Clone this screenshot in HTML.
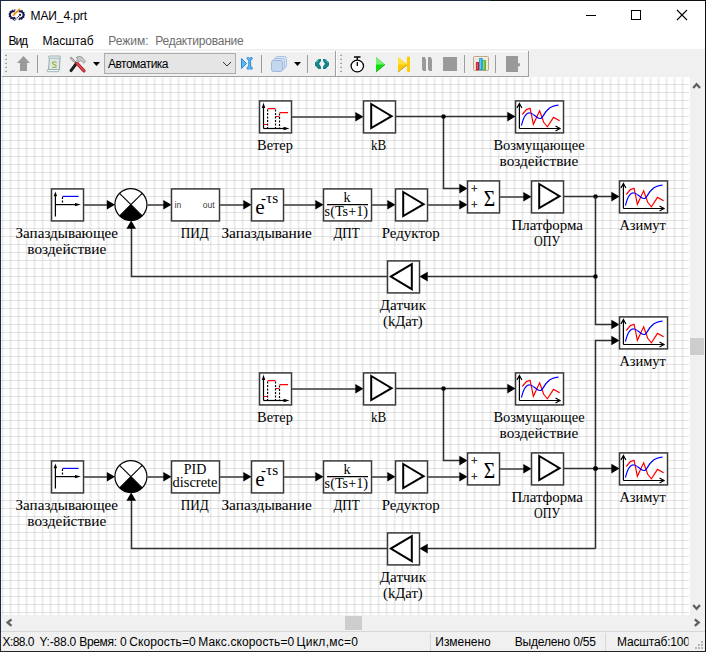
<!DOCTYPE html>
<html><head><meta charset="utf-8">
<style>
html,body{margin:0;padding:0;width:706px;height:652px;overflow:hidden;background:#fff}
svg{display:block}
.ui{font-family:"Liberation Sans",sans-serif;font-size:12px}
.lb{font-family:"Liberation Serif",serif;font-size:14px;fill:#000}
</style></head><body>
<svg width="706" height="652" viewBox="0 0 706 652">
<defs>
<pattern id="grid" x="0" y="0" width="8" height="8" patternUnits="userSpaceOnUse">
<rect x="2" y="0" width="1" height="8" fill="rgba(0,0,0,0.08)"/><rect x="1" y="0" width="1" height="8" fill="rgba(0,0,0,0.025)"/><rect x="3" y="0" width="1" height="8" fill="rgba(0,0,0,0.035)"/>
<rect x="0" y="4" width="8" height="1" fill="rgba(0,0,0,0.11)"/>
</pattern>
</defs>
<!-- window bg -->
<rect x="0" y="0" width="706" height="652" fill="#fff"/>
<!-- canvas -->
<rect x="1" y="77" width="689" height="538" fill="#fff"/>
<rect x="1" y="77" width="688" height="538" fill="url(#grid)"/>

<!-- DIAGRAM -->
<g id="diagram"><rect x="259.5" y="100.9" width="32" height="32" fill="#fff" stroke="#3a3a3a" stroke-width="1.5"/><path d="M263.5 128.5 V106" stroke="#000" stroke-width="1.2"/><path d="M263.5 102.5 L261.8 108 L265.2 108 Z" fill="#000"/><path d="M263.5 128.5 H286" stroke="#000" stroke-width="1.2"/><path d="M289.5 128.5 L283.5 126.8 L283.5 130.2 Z" fill="#000"/><path d="M263.5 124.5 H267.6 M267.6 108.6 H275.5 M275.5 116.5 H279.5 M279.5 112.6 H288" stroke="#f00" stroke-width="1.2"/><path d="M267.6 109.5 V128.5 M275.5 109.5 V128.5 M279.5 113.5 V128.5" stroke="#000" stroke-width="1.2" stroke-dasharray="2,1.5"/><rect x="363.5" y="100.9" width="32" height="32" fill="#fff" stroke="#3a3a3a" stroke-width="1.5"/><path d="M371.2 104 L391.6 116.2 L371.2 128 Z" fill="none" stroke="#000" stroke-width="2"/><rect x="515.5" y="100.9" width="48" height="32" fill="#fff" stroke="#3a3a3a" stroke-width="1.5"/><path d="M519.4 128.5 V103.5 M516.9 108 L519.4 103.5 L521.9 108" fill="none" stroke="#000" stroke-width="1.2"/><path d="M519.4 128.5 H560 M555.5 126.0 L560 128.5 L555.5 131.0" fill="none" stroke="#000" stroke-width="1.2"/><path d="M522.3 114.5 L526.4 109.6 L530.1 108.3 L533.4 124.3 L539.6 110.8 L543.7 122.3 L547.4 126.8 L553.5 117.4 L559.7 120.7" fill="none" stroke="#f00" stroke-width="1.2"/><path d="M521.5 125.6 C523.5 116.0 527.0 112.0 530.0 113.0 C534.0 113.5 537.0 119.0 540.0 118.5 C543.0 118.5 544.0 113.0 547.0 110.5 C550.0 107.0 554.0 105.5 558.5 105.2" fill="none" stroke="#00f" stroke-width="1.2"/><rect x="51.5" y="188.9" width="32" height="32" fill="#fff" stroke="#3a3a3a" stroke-width="1.5"/><path d="M55.4 216.5 V195" stroke="#000" stroke-width="1.2"/><path d="M55.4 191.4 L53.699999999999996 196.2 L57.1 196.2 Z" fill="#000"/><path d="M55.4 204.6 H77" stroke="#000" stroke-width="1.2"/><path d="M80.8 204.6 L75 203 L75 206.2 Z" fill="#000"/><path d="M62.5 196.4 H78.6" stroke="#00f" stroke-width="1.2"/><path d="M62.5 197 V204" stroke="#000" stroke-width="1.2" stroke-dasharray="2,1.5"/><circle cx="130.9" cy="204.6" r="16" fill="#fff" stroke="#000" stroke-width="1.2"/><path d="M130.9 204.6 L142.20 215.90 A16 16 0 0 1 119.60 215.90 Z" fill="#000"/><path d="M119.60 193.30 L142.20 215.90 M142.20 193.30 L119.60 215.90" stroke="#000" stroke-width="1.1"/><rect x="171.5" y="188.9" width="48" height="32" fill="#fff" stroke="#3a3a3a" stroke-width="1.5"/><text x="174.6" y="208.2" style="font-family:'Liberation Sans';font-size:8.5px" fill="#3a3a3a" >in</text><text x="202.8" y="208.2" style="font-family:'Liberation Sans';font-size:8.5px" fill="#3a3a3a" >out</text><rect x="251.5" y="188.9" width="32" height="32" fill="#fff" stroke="#3a3a3a" stroke-width="1.5"/><text x="255.2" y="214" style="font-family:'Liberation Serif';font-size:21px" fill="#000" textLength="9.4" lengthAdjust="spacingAndGlyphs">e</text><text x="261" y="203" style="font-family:'Liberation Serif';font-size:14.5px" fill="#000" textLength="17.3" lengthAdjust="spacingAndGlyphs">-τs</text><rect x="323.5" y="188.9" width="48" height="32" fill="#fff" stroke="#3a3a3a" stroke-width="1.5"/><text x="347" y="201.6" style="font-family:'Liberation Serif';font-size:14px" fill="#000" text-anchor="middle">k</text><path d="M327 204.6 H368" stroke="#000" stroke-width="1.1"/><text x="324.6" y="215.6" style="font-family:'Liberation Serif';font-size:14px" fill="#000" textLength="43.5" lengthAdjust="spacingAndGlyphs">s(Ts+1)</text><rect x="395.5" y="188.9" width="32" height="32" fill="#fff" stroke="#3a3a3a" stroke-width="1.5"/><path d="M403.2 192 L423.6 204.2 L403.2 216 Z" fill="none" stroke="#000" stroke-width="2"/><rect x="467.5" y="180.9" width="32" height="32" fill="#fff" stroke="#3a3a3a" stroke-width="1.5"/><text x="471" y="192.6" style="font-family:'Liberation Serif';font-size:12px" fill="#000" stroke="#000" stroke-width="0.25" textLength="6.6" lengthAdjust="spacingAndGlyphs">+</text><text x="471" y="208.6" style="font-family:'Liberation Serif';font-size:12px" fill="#000" stroke="#000" stroke-width="0.25" textLength="6.6" lengthAdjust="spacingAndGlyphs">+</text><text x="483.8" y="205.7" style="font-family:'Liberation Serif';font-size:24px" fill="#000" textLength="11.4" lengthAdjust="spacingAndGlyphs">Σ</text><rect x="531.5" y="180.9" width="32" height="32" fill="#fff" stroke="#3a3a3a" stroke-width="1.5"/><path d="M539.2 184 L559.6 196.2 L539.2 208 Z" fill="none" stroke="#000" stroke-width="2"/><rect x="619.5" y="180.9" width="48" height="32" fill="#fff" stroke="#3a3a3a" stroke-width="1.5"/><path d="M623.4 208.5 V183.5 M620.9 188 L623.4 183.5 L625.9 188" fill="none" stroke="#000" stroke-width="1.2"/><path d="M623.4 208.5 H664 M659.5 206.0 L664 208.5 L659.5 211.0" fill="none" stroke="#000" stroke-width="1.2"/><path d="M626.3 194.5 L630.4 189.6 L634.1 188.3 L637.4 204.3 L643.6 190.8 L647.7 202.3 L651.4 206.8 L657.5 197.4 L663.7 200.7" fill="none" stroke="#f00" stroke-width="1.2"/><path d="M625.5 205.6 C627.5 196.0 631.0 192.0 634.0 193.0 C638.0 193.5 641.0 199.0 644.0 198.5 C647.0 198.5 648.0 193.0 651.0 190.5 C654.0 187.0 658.0 185.5 662.5 185.2" fill="none" stroke="#00f" stroke-width="1.2"/><rect x="387.5" y="260.9" width="32" height="32" fill="#fff" stroke="#3a3a3a" stroke-width="1.5"/><path d="M411.8 264.2 L390.8 276.6 L411.8 289.2 Z" fill="none" stroke="#000" stroke-width="2"/><path d="M292 117 H356" fill="none" stroke="#666" stroke-width="2"/><path d="M363.5 116.8 L355.3 112.0 L355.3 121.6 Z" fill="#000"/><path d="M396 116.5 H508" fill="none" stroke="#303030" stroke-width="1.5"/><path d="M515.5 116.6 L507.3 111.8 L507.3 121.39999999999999 Z" fill="#000"/><path d="M443.5 116.5 V188.5 H460" fill="none" stroke="#303030" stroke-width="1.5"/><path d="M467.5 188.6 L459.3 183.79999999999998 L459.3 193.4 Z" fill="#000"/><rect x="441.5" y="114.5" width="4" height="4" rx="1.2" fill="#000"/><path d="M84 205 H108" fill="none" stroke="#666" stroke-width="2"/><path d="M115 204.7 L106.8 199.89999999999998 L106.8 209.5 Z" fill="#000"/><path d="M147 205 H164" fill="none" stroke="#666" stroke-width="2"/><path d="M171.5 204.7 L163.3 199.89999999999998 L163.3 209.5 Z" fill="#000"/><path d="M220 205 H244" fill="none" stroke="#666" stroke-width="2"/><path d="M251.5 204.7 L243.3 199.89999999999998 L243.3 209.5 Z" fill="#000"/><path d="M284 205 H316" fill="none" stroke="#666" stroke-width="2"/><path d="M323.5 204.7 L315.3 199.89999999999998 L315.3 209.5 Z" fill="#000"/><path d="M372 205 H388" fill="none" stroke="#666" stroke-width="2"/><path d="M395.5 204.7 L387.3 199.89999999999998 L387.3 209.5 Z" fill="#000"/><path d="M428 205 H460" fill="none" stroke="#666" stroke-width="2"/><path d="M467.5 204.7 L459.3 199.89999999999998 L459.3 209.5 Z" fill="#000"/><path d="M500 197 H524" fill="none" stroke="#666" stroke-width="2"/><path d="M531.5 196.7 L523.3 191.89999999999998 L523.3 201.5 Z" fill="#000"/><path d="M564 196.5 H612" fill="none" stroke="#303030" stroke-width="1.5"/><path d="M619.5 196.6 L611.3 191.79999999999998 L611.3 201.4 Z" fill="#000"/><rect x="593.5" y="194.5" width="4" height="4" rx="1.2" fill="#000"/><path d="M595.5 276.5 H426" fill="none" stroke="#303030" stroke-width="1.5"/><path d="M419.5 276.6 L427.7 271.8 L427.7 281.40000000000003 Z" fill="#000"/><path d="M387 276.5 H131.5 V228" fill="none" stroke="#303030" stroke-width="1.5"/><path d="M131.2 220.6 L126.39999999999999 228.79999999999998 L136.0 228.79999999999998 Z" fill="#000"/>
<rect x="259.5" y="372.9" width="32" height="32" fill="#fff" stroke="#3a3a3a" stroke-width="1.5"/><path d="M263.5 400.5 V378" stroke="#000" stroke-width="1.2"/><path d="M263.5 374.5 L261.8 380 L265.2 380 Z" fill="#000"/><path d="M263.5 400.5 H286" stroke="#000" stroke-width="1.2"/><path d="M289.5 400.5 L283.5 398.8 L283.5 402.2 Z" fill="#000"/><path d="M263.5 396.5 H267.6 M267.6 380.6 H275.5 M275.5 388.5 H279.5 M279.5 384.6 H288" stroke="#f00" stroke-width="1.2"/><path d="M267.6 381.5 V400.5 M275.5 381.5 V400.5 M279.5 385.5 V400.5" stroke="#000" stroke-width="1.2" stroke-dasharray="2,1.5"/><rect x="363.5" y="372.9" width="32" height="32" fill="#fff" stroke="#3a3a3a" stroke-width="1.5"/><path d="M371.2 376 L391.6 388.2 L371.2 400 Z" fill="none" stroke="#000" stroke-width="2"/><rect x="515.5" y="372.9" width="48" height="32" fill="#fff" stroke="#3a3a3a" stroke-width="1.5"/><path d="M519.4 400.5 V375.5 M516.9 380 L519.4 375.5 L521.9 380" fill="none" stroke="#000" stroke-width="1.2"/><path d="M519.4 400.5 H560 M555.5 398.0 L560 400.5 L555.5 403.0" fill="none" stroke="#000" stroke-width="1.2"/><path d="M522.3 386.5 L526.4 381.6 L530.1 380.3 L533.4 396.3 L539.6 382.8 L543.7 394.3 L547.4 398.8 L553.5 389.4 L559.7 392.7" fill="none" stroke="#f00" stroke-width="1.2"/><path d="M521.5 397.6 C523.5 388.0 527.0 384.0 530.0 385.0 C534.0 385.5 537.0 391.0 540.0 390.5 C543.0 390.5 544.0 385.0 547.0 382.5 C550.0 379.0 554.0 377.5 558.5 377.2" fill="none" stroke="#00f" stroke-width="1.2"/><rect x="51.5" y="460.9" width="32" height="32" fill="#fff" stroke="#3a3a3a" stroke-width="1.5"/><path d="M55.4 488.5 V467" stroke="#000" stroke-width="1.2"/><path d="M55.4 463.4 L53.699999999999996 468.2 L57.1 468.2 Z" fill="#000"/><path d="M55.4 476.6 H77" stroke="#000" stroke-width="1.2"/><path d="M80.8 476.6 L75 475 L75 478.2 Z" fill="#000"/><path d="M62.5 468.4 H78.6" stroke="#00f" stroke-width="1.2"/><path d="M62.5 469 V476" stroke="#000" stroke-width="1.2" stroke-dasharray="2,1.5"/><circle cx="130.9" cy="476.6" r="16" fill="#fff" stroke="#000" stroke-width="1.2"/><path d="M130.9 476.6 L142.20 487.90 A16 16 0 0 1 119.60 487.90 Z" fill="#000"/><path d="M119.60 465.30 L142.20 487.90 M142.20 465.30 L119.60 487.90" stroke="#000" stroke-width="1.1"/><rect x="171.5" y="460.9" width="48" height="32" fill="#fff" stroke="#3a3a3a" stroke-width="1.5"/><rect x="251.5" y="460.9" width="32" height="32" fill="#fff" stroke="#3a3a3a" stroke-width="1.5"/><text x="255.2" y="486" style="font-family:'Liberation Serif';font-size:21px" fill="#000" textLength="9.4" lengthAdjust="spacingAndGlyphs">e</text><text x="261" y="475" style="font-family:'Liberation Serif';font-size:14.5px" fill="#000" textLength="17.3" lengthAdjust="spacingAndGlyphs">-τs</text><rect x="323.5" y="460.9" width="48" height="32" fill="#fff" stroke="#3a3a3a" stroke-width="1.5"/><text x="347" y="473.6" style="font-family:'Liberation Serif';font-size:14px" fill="#000" text-anchor="middle">k</text><path d="M327 476.6 H368" stroke="#000" stroke-width="1.1"/><text x="324.6" y="487.6" style="font-family:'Liberation Serif';font-size:14px" fill="#000" textLength="43.5" lengthAdjust="spacingAndGlyphs">s(Ts+1)</text><rect x="395.5" y="460.9" width="32" height="32" fill="#fff" stroke="#3a3a3a" stroke-width="1.5"/><path d="M403.2 464 L423.6 476.2 L403.2 488 Z" fill="none" stroke="#000" stroke-width="2"/><rect x="467.5" y="452.9" width="32" height="32" fill="#fff" stroke="#3a3a3a" stroke-width="1.5"/><text x="471" y="464.6" style="font-family:'Liberation Serif';font-size:12px" fill="#000" stroke="#000" stroke-width="0.25" textLength="6.6" lengthAdjust="spacingAndGlyphs">+</text><text x="471" y="480.6" style="font-family:'Liberation Serif';font-size:12px" fill="#000" stroke="#000" stroke-width="0.25" textLength="6.6" lengthAdjust="spacingAndGlyphs">+</text><text x="483.8" y="477.7" style="font-family:'Liberation Serif';font-size:24px" fill="#000" textLength="11.4" lengthAdjust="spacingAndGlyphs">Σ</text><rect x="531.5" y="452.9" width="32" height="32" fill="#fff" stroke="#3a3a3a" stroke-width="1.5"/><path d="M539.2 456 L559.6 468.2 L539.2 480 Z" fill="none" stroke="#000" stroke-width="2"/><rect x="619.5" y="452.9" width="48" height="32" fill="#fff" stroke="#3a3a3a" stroke-width="1.5"/><path d="M623.4 480.5 V455.5 M620.9 460 L623.4 455.5 L625.9 460" fill="none" stroke="#000" stroke-width="1.2"/><path d="M623.4 480.5 H664 M659.5 478.0 L664 480.5 L659.5 483.0" fill="none" stroke="#000" stroke-width="1.2"/><path d="M626.3 466.5 L630.4 461.6 L634.1 460.3 L637.4 476.3 L643.6 462.8 L647.7 474.3 L651.4 478.8 L657.5 469.4 L663.7 472.7" fill="none" stroke="#f00" stroke-width="1.2"/><path d="M625.5 477.6 C627.5 468.0 631.0 464.0 634.0 465.0 C638.0 465.5 641.0 471.0 644.0 470.5 C647.0 470.5 648.0 465.0 651.0 462.5 C654.0 459.0 658.0 457.5 662.5 457.2" fill="none" stroke="#00f" stroke-width="1.2"/><rect x="387.5" y="532.9" width="32" height="32" fill="#fff" stroke="#3a3a3a" stroke-width="1.5"/><path d="M411.8 536.2 L390.8 548.6 L411.8 561.2 Z" fill="none" stroke="#000" stroke-width="2"/><path d="M292 389 H356" fill="none" stroke="#666" stroke-width="2"/><path d="M363.5 388.8 L355.3 384.0 L355.3 393.6 Z" fill="#000"/><path d="M396 388.5 H508" fill="none" stroke="#303030" stroke-width="1.5"/><path d="M515.5 388.6 L507.3 383.8 L507.3 393.40000000000003 Z" fill="#000"/><path d="M443.5 388.5 V460.5 H460" fill="none" stroke="#303030" stroke-width="1.5"/><path d="M467.5 460.6 L459.3 455.8 L459.3 465.40000000000003 Z" fill="#000"/><rect x="441.5" y="386.5" width="4" height="4" rx="1.2" fill="#000"/><path d="M84 477 H108" fill="none" stroke="#666" stroke-width="2"/><path d="M115 476.7 L106.8 471.9 L106.8 481.5 Z" fill="#000"/><path d="M147 477 H164" fill="none" stroke="#666" stroke-width="2"/><path d="M171.5 476.7 L163.3 471.9 L163.3 481.5 Z" fill="#000"/><path d="M220 477 H244" fill="none" stroke="#666" stroke-width="2"/><path d="M251.5 476.7 L243.3 471.9 L243.3 481.5 Z" fill="#000"/><path d="M284 477 H316" fill="none" stroke="#666" stroke-width="2"/><path d="M323.5 476.7 L315.3 471.9 L315.3 481.5 Z" fill="#000"/><path d="M372 477 H388" fill="none" stroke="#666" stroke-width="2"/><path d="M395.5 476.7 L387.3 471.9 L387.3 481.5 Z" fill="#000"/><path d="M428 477 H460" fill="none" stroke="#666" stroke-width="2"/><path d="M467.5 476.7 L459.3 471.9 L459.3 481.5 Z" fill="#000"/><path d="M500 469 H524" fill="none" stroke="#666" stroke-width="2"/><path d="M531.5 468.7 L523.3 463.9 L523.3 473.5 Z" fill="#000"/><path d="M564 468.5 H612" fill="none" stroke="#303030" stroke-width="1.5"/><path d="M619.5 468.6 L611.3 463.8 L611.3 473.40000000000003 Z" fill="#000"/><rect x="593.5" y="466.5" width="4" height="4" rx="1.2" fill="#000"/><path d="M595.5 548.5 H426" fill="none" stroke="#303030" stroke-width="1.5"/><path d="M419.5 548.6 L427.7 543.8000000000001 L427.7 553.4 Z" fill="#000"/><path d="M387 548.5 H131.5 V500" fill="none" stroke="#303030" stroke-width="1.5"/><path d="M131.2 492.6 L126.39999999999999 500.8 L136.0 500.8 Z" fill="#000"/><text x="195" y="473.8" style="font-family:'Liberation Serif';font-size:14px" fill="#000" text-anchor="middle">PID</text><text x="172.5" y="487.4" style="font-family:'Liberation Serif';font-size:14px" fill="#000" textLength="45" lengthAdjust="spacingAndGlyphs">discrete</text>
<path d="M595.5 196.5 V324.5 H612" fill="none" stroke="#303030" stroke-width="1.5"/>
<path d="M619.5 324.5 L611.3 319.7 L611.3 329.3 Z" fill="#000"/>
<rect x="593.5" y="274.5" width="4" height="4" rx="1.2" fill="#000"/>
<path d="M595.5 548.5 V340.5 H612" fill="none" stroke="#303030" stroke-width="1.5"/>
<path d="M619.5 340.5 L611.3 335.7 L611.3 345.3 Z" fill="#000"/>
<rect x="593.5" y="466.5" width="4" height="4" rx="1.2" fill="#000"/>
<rect x="619.5" y="316.9" width="48" height="32" fill="#fff" stroke="#3a3a3a" stroke-width="1.5"/>
<path d="M623.4 344.5 V319.5 M620.9 324 L623.4 319.5 L625.9 324" fill="none" stroke="#000" stroke-width="1.2"/><path d="M623.4 344.5 H664 M659.5 342.0 L664 344.5 L659.5 347.0" fill="none" stroke="#000" stroke-width="1.2"/><path d="M626.3 330.5 L630.4 325.6 L634.1 324.3 L637.4 340.3 L643.6 326.8 L647.7 338.3 L651.4 342.8 L657.5 333.4 L663.7 336.7" fill="none" stroke="#f00" stroke-width="1.2"/><path d="M625.5 341.6 C627.5 332.0 631.0 328.0 634.0 329.0 C638.0 329.5 641.0 335.0 644.0 334.5 C647.0 334.5 648.0 329.0 651.0 326.5 C654.0 323.0 658.0 321.5 662.5 321.2" fill="none" stroke="#00f" stroke-width="1.2"/>
<text x="257.1" y="150" class="lb" textLength="35.8" lengthAdjust="spacingAndGlyphs">Ветер</text><text x="371.0" y="150" class="lb" textLength="15.2" lengthAdjust="spacingAndGlyphs">kB</text><text x="493.4" y="149.7" class="lb" textLength="91.2" lengthAdjust="spacingAndGlyphs">Возмущающее</text><text x="499.6" y="166.1" class="lb" textLength="78.7" lengthAdjust="spacingAndGlyphs">воздействие</text><text x="15.5" y="237.8" class="lb" textLength="102.5" lengthAdjust="spacingAndGlyphs">Запаздывающее</text><text x="27.3" y="254.3" class="lb" textLength="79" lengthAdjust="spacingAndGlyphs">воздействие</text><text x="180.8" y="238" class="lb" textLength="28" lengthAdjust="spacingAndGlyphs">ПИД</text><text x="221.4" y="238" class="lb" textLength="90.5" lengthAdjust="spacingAndGlyphs">Запаздывание</text><text x="333.4" y="238" class="lb" textLength="26.3" lengthAdjust="spacingAndGlyphs">ДПТ</text><text x="381.7" y="238" class="lb" textLength="58" lengthAdjust="spacingAndGlyphs">Редуктор</text><text x="511.5" y="230" class="lb" textLength="71.4" lengthAdjust="spacingAndGlyphs">Платформа</text><text x="534.0" y="246.3" class="lb" textLength="26" lengthAdjust="spacingAndGlyphs">ОПУ</text><text x="619.4" y="230" class="lb" textLength="46.4" lengthAdjust="spacingAndGlyphs">Азимут</text><text x="379.8" y="310" class="lb" textLength="46.2" lengthAdjust="spacingAndGlyphs">Датчик</text><text x="383.0" y="326.4" class="lb" textLength="39.7" lengthAdjust="spacingAndGlyphs">(kДат)</text>
<text x="257.1" y="422" class="lb" textLength="35.8" lengthAdjust="spacingAndGlyphs">Ветер</text><text x="371.0" y="422" class="lb" textLength="15.2" lengthAdjust="spacingAndGlyphs">kB</text><text x="493.4" y="421.7" class="lb" textLength="91.2" lengthAdjust="spacingAndGlyphs">Возмущающее</text><text x="499.6" y="438.1" class="lb" textLength="78.7" lengthAdjust="spacingAndGlyphs">воздействие</text><text x="15.5" y="509.8" class="lb" textLength="102.5" lengthAdjust="spacingAndGlyphs">Запаздывающее</text><text x="27.3" y="526.3" class="lb" textLength="79" lengthAdjust="spacingAndGlyphs">воздействие</text><text x="180.8" y="510" class="lb" textLength="28" lengthAdjust="spacingAndGlyphs">ПИД</text><text x="221.4" y="510" class="lb" textLength="90.5" lengthAdjust="spacingAndGlyphs">Запаздывание</text><text x="333.4" y="510" class="lb" textLength="26.3" lengthAdjust="spacingAndGlyphs">ДПТ</text><text x="381.7" y="510" class="lb" textLength="58" lengthAdjust="spacingAndGlyphs">Редуктор</text><text x="511.5" y="502" class="lb" textLength="71.4" lengthAdjust="spacingAndGlyphs">Платформа</text><text x="534.0" y="518.3" class="lb" textLength="26" lengthAdjust="spacingAndGlyphs">ОПУ</text><text x="619.4" y="502" class="lb" textLength="46.4" lengthAdjust="spacingAndGlyphs">Азимут</text><text x="379.8" y="582" class="lb" textLength="46.2" lengthAdjust="spacingAndGlyphs">Датчик</text><text x="383.0" y="598.4" class="lb" textLength="39.7" lengthAdjust="spacingAndGlyphs">(kДат)</text>
<text x="619.4" y="366" class="lb" textLength="46.4" lengthAdjust="spacingAndGlyphs">Азимут</text></g>
<!-- /DIAGRAM -->
<!-- CHROME -->
<g id="chrome">
<!-- toolbar band -->
<rect x="1" y="49" width="704" height="28" fill="#f0f0f0"/>
<!-- toolbar1 frame -->
<rect x="2" y="51" width="333" height="1" fill="#fff"/>
<rect x="2" y="51" width="1" height="25" fill="#fff"/>
<rect x="2" y="76" width="334" height="1" fill="#a0a0a0"/>
<rect x="335" y="51" width="1" height="26" fill="#a0a0a0"/>
<!-- toolbar2 frame -->
<rect x="336" y="51" width="192" height="1" fill="#fff"/>
<rect x="336" y="51" width="1" height="25" fill="#fff"/>
<rect x="336" y="76" width="193" height="1" fill="#a0a0a0"/>
<rect x="528" y="51" width="1" height="26" fill="#a0a0a0"/>
<!-- grippers -->
<g fill="#a6a6a6"><path d="M5 56 L7 54 L7 56 Z"/><rect x="5" y="55" width="2" height="1"/><path d="M5 60 L7 58 L7 60 Z"/><rect x="5" y="59" width="2" height="1"/><path d="M5 64 L7 62 L7 64 Z"/><rect x="5" y="63" width="2" height="1"/><path d="M5 68 L7 66 L7 68 Z"/><rect x="5" y="67" width="2" height="1"/><path d="M5 72 L7 70 L7 72 Z"/><rect x="5" y="71" width="2" height="1"/><path d="M340 56 L342 54 L342 56 Z"/><rect x="340" y="55" width="2" height="1"/><path d="M340 60 L342 58 L342 60 Z"/><rect x="340" y="59" width="2" height="1"/><path d="M340 64 L342 62 L342 64 Z"/><rect x="340" y="63" width="2" height="1"/><path d="M340 68 L342 66 L342 68 Z"/><rect x="340" y="67" width="2" height="1"/><path d="M340 72 L342 70 L342 72 Z"/><rect x="340" y="71" width="2" height="1"/></g>
<!-- up arrow -->
<path d="M17 63 L23.5 56 L30 63 L27 63 L27 71 L20 71 L20 63 Z" fill="#9a9a9a"/>
<!-- separators -->
<g fill="#9d9d9d">
<rect x="37" y="55" width="1" height="18"/>
<rect x="261" y="55" width="1" height="18"/>
<rect x="307" y="55" width="1" height="18"/>
<rect x="464" y="55" width="1" height="18"/>
<rect x="495" y="55" width="1" height="18"/>
</g>
<!-- script icon -->
<path d="M49.5 57.5 L60 57.5 L59.5 69.5 L48.5 69.5 Z" fill="#dde7e8" stroke="#8fa8a8" stroke-width="1"/>
<rect x="48.5" y="56" width="12" height="2.2" rx="1" fill="#e8efef" stroke="#8fa8a8" stroke-width="0.8"/>
<rect x="47" y="69.5" width="12" height="2.2" rx="1" fill="#eef3f3" stroke="#8fa8a8" stroke-width="0.8"/>
<path d="M56.5 62.3 Q54 61.2 52.6 62.3 Q52 63.8 54.3 64.5 Q56.6 65.2 56 66.8 Q54.6 68 52.3 66.9" fill="none" stroke="#9aab2a" stroke-width="1.05"/>
<!-- hammer -->
<path d="M71 58 L76.8 63.8" stroke="#8c8c8c" stroke-width="2.2" stroke-linecap="round"/>
<path d="M71 58 L76.8 63.8" stroke="#d8d8d8" stroke-width="0.8" stroke-linecap="round"/>
<path d="M76.3 63.6 L71 70.6" stroke="#1e1e1e" stroke-width="3" stroke-linecap="round"/>
<path d="M77 63.4 L84 70.8" stroke="#b82028" stroke-width="3.2" stroke-linecap="round"/>
<path d="M77 63.4 L84 70.8" stroke="#e8505a" stroke-width="1.2" stroke-linecap="round"/>
<path d="M76 57.5 Q79 55.5 82 57 L85.5 61.5 L84 63.3 L81 60.5 L78.5 62 L76.5 60 L78 58.6 Z" fill="#c8c8c8" stroke="#8a8a8a" stroke-width="0.7"/>
<!-- dropdown triangles -->
<path d="M93 62 L100 62 L96.5 66 Z" fill="#000"/>
<path d="M294 62 L301 62 L297.5 66 Z" fill="#000"/>
<!-- combo -->
<rect x="104.5" y="53.5" width="131" height="20" fill="#e5e5e5" stroke="#adadad" stroke-width="1"/>
<text x="108" y="68" class="ui" fill="#000" textLength="60.5">Автоматика</text>
<path d="M223 62 L227 66 L231 62" fill="none" stroke="#333" stroke-width="1"/>
<!-- blue step icon -->
<path d="M241.5 58.5 L246.5 63.5 L241.5 68.5 Z" fill="#5ab8f0" stroke="#2a88d8" stroke-width="1"/>
<path d="M247 58.3 Q247 57.3 248.3 57.5 L249.7 58.2 L251 57.5 Q252.4 57.3 252.4 58.5 Q252.4 59.6 251 59.6 L250.6 59.6 L250.6 66.9 L251 66.9 Q252.4 66.9 252.4 68.2 Q252.4 69.4 251 69.2 L249.7 68.6 L248.3 69.2 Q247 69.4 247 68.2 Q247 66.9 248.4 66.9 L248.8 66.9 L248.8 59.6 L248.4 59.6 Q247 59.6 247 58.3 Z" fill="#6cc6f6" stroke="#2a88d8" stroke-width="1"/>
<!-- layers icon -->
<rect x="275.5" y="56.5" width="11" height="11" rx="2" fill="#dbe7f4" stroke="#a8c2e2" stroke-width="1"/>
<rect x="273.5" y="58.5" width="11" height="11" rx="2" fill="#d0e0f2" stroke="#a8c2e2" stroke-width="1"/>
<rect x="271.5" y="60.5" width="11" height="11" rx="2" fill="#c2d6ee" stroke="#9cb8de" stroke-width="1"/>
<!-- teal icon -->
<path d="M318.5 59 L321 59 L321 61 L319 63.8 L321 66.8 L321 69 L318.5 69 L315 65.5 L315 62.5 Z" fill="#148282"/>
<path d="M325.5 59 L323 59 L323 61 L325 63.8 L323 66.8 L323 69 L325.5 69 L329 65.5 L329 62.5 Z" fill="#148282"/>
<path d="M316 62.5 L318.8 59.8 M328 62.5 L325.2 59.8" stroke="#46d4d4" stroke-width="0.9"/>
<!-- timer -->
<ellipse cx="357.3" cy="66" rx="6.2" ry="5.8" fill="#fff" stroke="#000" stroke-width="1.3"/>
<path d="M354 57 L360.5 57 M357.3 57 L357.3 60 M357.3 62 L357.3 66" stroke="#000" stroke-width="1.3"/>
<!-- play -->
<path d="M376 57 L385 64.5 L376 72 Z" fill="#10dd10"/>
<path d="M376 57 L385 64.5 L376 64.5 Z" fill="#7aee7a"/>
<path d="M376 72 L385 64.5" stroke="#0a9a0a" stroke-width="0.8"/>
<!-- step -->
<path d="M398 57 L407.5 64.5 L398 72 Z" fill="#ffcc00"/>
<path d="M398 57 L407.5 64.5 L398 64.5 Z" fill="#ffe040"/>
<path d="M398 72 L407.5 64.5" stroke="#b08800" stroke-width="0.8"/>
<rect x="407" y="56.5" width="3" height="15.5" rx="1" fill="#ffcc00"/>
<!-- pause -->
<path d="M422 57 H425 V58.5 H426 V71 H423 V70 H422 Z" fill="#9a9a9a"/>
<path d="M428 57 H431 V58.5 H432 V71 H429 V70 H428 Z" fill="#9a9a9a"/>
<!-- stop -->
<rect x="443" y="57" width="14" height="14" fill="#9a9a9a"/>
<!-- chart -->
<rect x="473.5" y="56.5" width="15" height="14" rx="1" fill="#f6efe0" stroke="#bca58c"/>
<g stroke="#e6dccb" stroke-width="0.7"><path d="M474 58.7 H488 M474 60.7 H488 M474 62.7 H488 M474 64.7 H488 M474 66.7 H488 M474 68.7 H488"/></g>
<rect x="475.9" y="62" width="3.4" height="8.3" rx="1" fill="#d8101c"/>
<rect x="476.6" y="63" width="1.2" height="6" fill="#f05a60"/>
<rect x="482.4" y="60" width="3.6" height="10.3" rx="1" fill="#5cb82a"/>
<rect x="483.1" y="61" width="1.2" height="8" fill="#98e060"/>
<rect x="479" y="58" width="3.8" height="12.3" rx="1" fill="#1e9ce0"/>
<rect x="479.8" y="59" width="1.3" height="10" fill="#60c8f8"/>
<!-- door -->
<path d="M506 56 L518 56 L518 63 L520 63.6 L520 66 L518 66.6 L518 72 L506 72 Z" fill="#9a9a9a"/>
<!-- title icon -->
<g fill="none" stroke="#1b1a50">
<path d="M14.8 11.5 A3.5 3.5 0 1 0 15.3 17.6" stroke-width="2"/>
<path d="M15.4 10.2 A4.8 4.8 0 1 0 15.6 19.3" stroke-width="1.3" stroke-dasharray="1.2,1.3"/>
<path d="M19 18.2 A3.5 3.5 0 1 0 18.6 11.7" stroke-width="2"/>
<path d="M18.6 19.5 A4.8 4.8 0 1 0 18.2 10.2" stroke-width="1.3" stroke-dasharray="1.2,1.3"/>
</g>
<circle cx="20" cy="14.8" r="1.1" fill="#1b1a50"/>
<path d="M13.3 15.2 L19.5 9.3" stroke="#f09010" stroke-width="1.7" stroke-linecap="round"/>
<path d="M14.3 20.5 L20.3 15" stroke="#1b1a50" stroke-width="1.2" stroke-dasharray="1,0.8"/>
<!-- title -->
<text x="30.5" y="20" class="ui" fill="#000" textLength="56.5">МАИ_4.prt</text>
<!-- menu -->
<text x="8.5" y="45" class="ui" fill="#000" textLength="19.5">Вид</text>
<text x="42.5" y="45" class="ui" fill="#000" textLength="51">Масштаб</text>
<text x="108.2" y="45" class="ui" fill="#6d6d6d" textLength="40.5">Режим:</text><text x="155.2" y="45" class="ui" fill="#6d6d6d" textLength="88.5">Редактирование</text>
<!-- window buttons -->
<rect x="586" y="15" width="10" height="1" fill="#000"/>
<rect x="631.5" y="10.5" width="9" height="9" fill="none" stroke="#000" stroke-width="1"/>
<path d="M677 10 L687 20 M687 10 L677 20" stroke="#000" stroke-width="1.1"/>

<!-- vertical scrollbar -->
<rect x="690" y="77" width="15" height="538" fill="#f0f0f0"/>
<rect x="690" y="338" width="14" height="17" fill="#cdcdcd"/>
<path d="M693.2 88 L696.6 84.3 L700 88" fill="none" stroke="#606060" stroke-width="2.3"/>
<path d="M693.2 605 L696.6 608.7 L700 605" fill="none" stroke="#606060" stroke-width="2.3"/>
<!-- horizontal scrollbar -->
<rect x="1" y="615" width="704" height="16" fill="#f0f0f0"/>
<rect x="345" y="616" width="17" height="14" fill="#cdcdcd"/>
<path d="M11.5 619.3 L7.6 622.6 L11.5 625.9" fill="none" stroke="#606060" stroke-width="2.3"/>
<path d="M694.8 619.3 L698.7 622.6 L694.8 625.9" fill="none" stroke="#606060" stroke-width="2.3"/>
<!-- status bar -->
<rect x="1" y="631" width="704" height="1" fill="#d7d7d7"/>
<rect x="1" y="632" width="704" height="19" fill="#f0f0f0"/>
<rect x="430" y="633" width="1" height="18" fill="#d7d7d7"/>
<rect x="605" y="633" width="1" height="18" fill="#d7d7d7"/>
<g class="ui" fill="#000">
<text x="2.6" y="646" textLength="31.8">X:88.0</text>
<text x="39.4" y="646" textLength="36.8">Y:-88.0</text>
<text x="79.2" y="646" textLength="37.8">Время:</text>
<text x="120" y="646">0</text>
<text x="129.3" y="646" textLength="66.4">Скорость=0</text>
<text x="198.3" y="646" textLength="96">Макс.скорость=0</text>
<text x="296.6" y="646" textLength="61.4">Цикл,мс=0</text>
<text x="435.3" y="646" textLength="55.5">Изменено</text>
<text x="514.8" y="646" textLength="81.2">Выделено 0/55</text>
</g>
<clipPath id="stclip"><rect x="606" y="632" width="82.5" height="19"/></clipPath><text x="617" y="646" class="ui" fill="#000" clip-path="url(#stclip)" textLength="73">Масштаб:100</text>
<g fill="#b8b8b8">
<rect x="701" y="641" width="2" height="2"/>
<rect x="698" y="644" width="2" height="2"/><rect x="701" y="644" width="2" height="2"/>
<rect x="695" y="647" width="2" height="2"/><rect x="698" y="647" width="2" height="2"/><rect x="701" y="647" width="2" height="2"/>
</g>
</g>

<!-- window border -->
<rect x="0" y="0" width="490" height="1" fill="#1d2a44"/>
<rect x="490" y="0" width="216" height="1" fill="#0e0e0e"/>
<rect x="0" y="0" width="1" height="652" fill="#1d2a44"/>
<rect x="705" y="0" width="1" height="652" fill="#101010"/>
<rect x="0" y="651" width="706" height="1" fill="#2a2222"/>
</svg>
</body></html>
